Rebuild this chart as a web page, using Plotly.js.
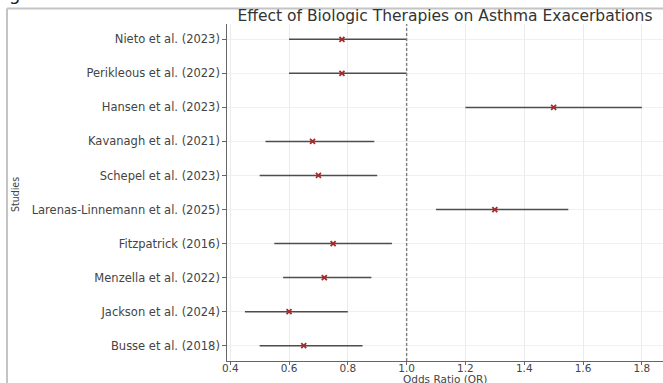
<!DOCTYPE html>
<html>
<head>
<meta charset="utf-8">
<script src="https://cdn.plot.ly/plotly-3.0.1.min.js"></script>
<style>
html,body{margin:0;padding:0;overflow:hidden;background:#fff;}
#chart{width:663px;height:383px;}
</style>
</head>
<body>
<div id="chart"></div>
<script>
// Data (bottom to top order as drawn)
const studies = [
  "Busse et al. (2018)",
  "Jackson et al. (2024)",
  "Menzella et al. (2022)",
  "Fitzpatrick (2016)",
  "Larenas-Linnemann et al. (2025)",
  "Schepel et al. (2023)",
  "Kavanagh et al. (2021)",
  "Hansen et al. (2023)",
  "Perikleous et al. (2022)",
  "Nieto et al. (2023)"
];
const oddsRatio = [0.65, 0.60, 0.72, 0.75, 1.30, 0.70, 0.68, 1.50, 0.78, 0.78];
const ciLower   = [0.50, 0.45, 0.58, 0.55, 1.10, 0.50, 0.52, 1.20, 0.60, 0.60];
const ciUpper   = [0.85, 0.80, 0.88, 0.95, 1.55, 0.90, 0.89, 1.80, 1.00, 1.00];
const xTicks    = [0.4, 0.6, 0.8, 1.0, 1.2, 1.4, 1.6, 1.8];
const xTickText = ["0.4", "0.6", "0.8", "1.0", "1.2", "1.4", "1.6", "1.8"];
const refLine = 1.0;

const yIdx = studies.map((_, i) => i);
const errPlus = oddsRatio.map((v, i) => ciUpper[i] - v);
const errMinus = oddsRatio.map((v, i) => v - ciLower[i]);

const font = "DejaVu Sans, Liberation Sans, sans-serif";

const trace = {
  type: "scatter",
  mode: "markers",
  x: oddsRatio,
  y: yIdx,
  marker: {symbol: "x-thin-open", size: 5, color: "#a52a2a", line: {color: "#b22222", width: 1.8}},
  error_x: {
    type: "data", symmetric: false,
    array: errPlus, arrayminus: errMinus,
    color: "#4d4d4d", thickness: 1.5, width: 0
  },
  hoverinfo: "x+y",
  showlegend: false
};

// pixel helpers for paper coords
const L = 227, R = 0, T = 24, B = 22, W = 663, H = 383;
const pw = W - L - R, ph = H - T - B;
const px = v => (v - L) / pw;
const py = v => (H - B - v) / ph;

const layout = {
  width: W, height: H,
  margin: {l: L, r: R, t: T, b: B, pad: 0},
  paper_bgcolor: "#ffffff",
  plot_bgcolor: "#ffffff",
  font: {family: font, color: "#444", size: 11},
  title: {
    text: "Effect of Biologic Therapies on Asthma Exacerbations",
    font: {family: font, size: 15.5, color: "#333"},
    x: 0.5, xref: "paper", xanchor: "center",
    y: 1 - 16 / H, yref: "container", yanchor: "middle"
  },
  xaxis: {
    range: [0.389, 1.872],
    tickvals: xTicks, ticktext: xTickText,
    showgrid: true, gridcolor: "#e6e6e6", gridwidth: 0.8,
    zeroline: false,
    showline: true, linecolor: "#666", linewidth: 1.3,
    ticks: "outside", ticklen: 3, tickcolor: "#666", tickwidth: 1,
    ticklabelposition: "outside",
    ticklabelstandoff: -6,
    tickfont: {family: font, size: 10.5, color: "#444"},
    fixedrange: true
  },
  yaxis: {
    range: [-0.45, 9.45],
    tickvals: yIdx, ticktext: studies,
    showgrid: true, gridcolor: "#ececec", gridwidth: 0.8,
    zeroline: false,
    showline: true, linecolor: "#666", linewidth: 1.3,
    ticks: "outside", ticklen: 3.5, tickcolor: "#666", tickwidth: 1,
    tickfont: {family: font, size: 11.5, color: "#444"},
    fixedrange: true
  },
  shapes: [
    {type: "line", xref: "x", yref: "paper", x0: refLine, x1: refLine, y0: 0, y1: 1,
     line: {color: "#808080", width: 1.4, dash: "3px,2px"}},
    {type: "line", xref: "paper", yref: "paper", x0: px(7), x1: px(7), y0: py(8.5), y1: py(390),
     line: {color: "#c4c4c4", width: 2}},
    {type: "line", xref: "paper", yref: "paper", x0: px(7), x1: px(670), y0: py(8.5), y1: py(8.5),
     line: {color: "#c4c4c4", width: 2}}
  ],
  annotations: [
    {text: "Odds Ratio (OR)", xref: "paper", yref: "paper", x: 0.5, y: py(378.5),
     xanchor: "center", yanchor: "middle", showarrow: false,
     font: {family: font, size: 10.5, color: "#444"}},
    {text: "Studies", xref: "paper", yref: "paper", x: px(15), y: py(195),
     xanchor: "center", yanchor: "middle", showarrow: false, textangle: -90,
     font: {family: "Liberation Sans Narrow, DejaVu Sans Condensed, Liberation Sans, sans-serif", size: 10.5, color: "#444"}},
    {text: "g", xref: "paper", yref: "paper", x: px(14.5), y: py(6),
     xanchor: "center", yanchor: "bottom", showarrow: false,
     font: {family: font, size: 18, color: "#222"}}
  ]
};

Plotly.newPlot("chart", [trace], layout, {displayModeBar: false, staticPlot: true});
</script>
</body>
</html>
